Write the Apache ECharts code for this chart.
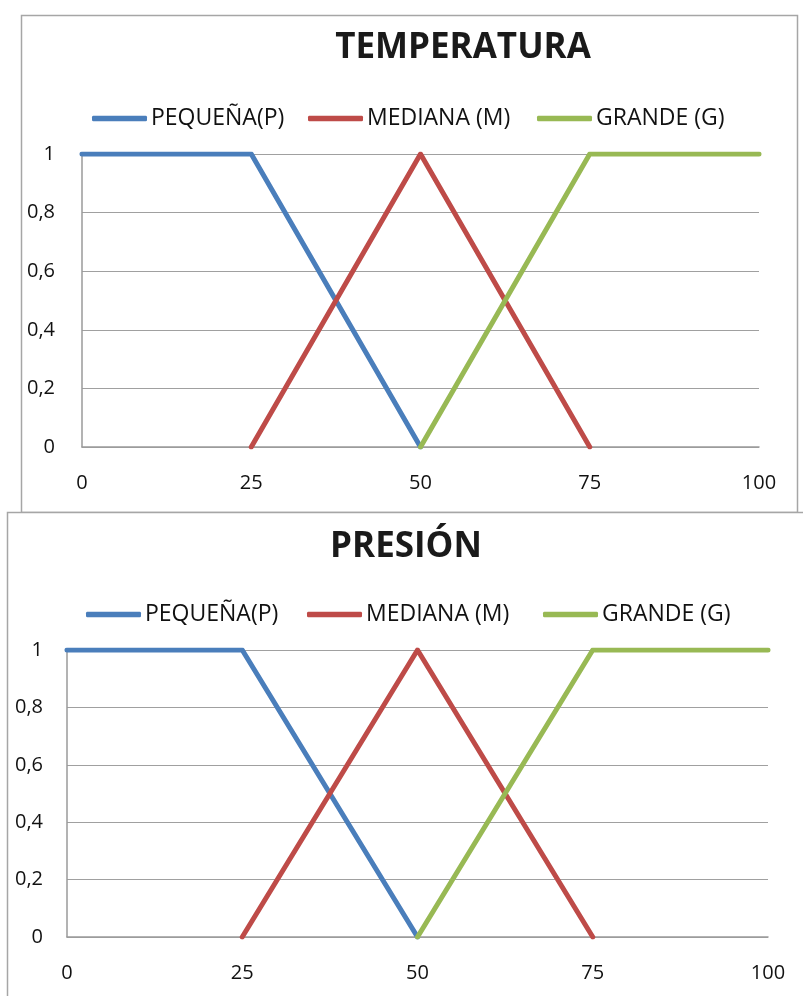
<!DOCTYPE html>
<html>
<head>
<meta charset="utf-8">
<script src="https://cdn.jsdelivr.net/npm/echarts@6/dist/echarts.min.js"></script>
<style>
html,body{margin:0;padding:0;background:#fff;}
#c{width:803px;height:996px;}
</style>
</head>
<body>
<div id="c"></div>
<script>
var titles = ['TEMPERATURA', 'PRESIÓN'];
var seriesNames = ['PEQUEÑA(P)', 'MEDIANA (M)', 'GRANDE (G)'];
var xTicks = [0, 25, 50, 75, 100];
var yTicks = [0, 0.2, 0.4, 0.6, 0.8, 1];
// Temperatura membership functions [x, grade]
var tempP = [[0, 1], [25, 1], [50, 0]];
var tempM = [[25, 0], [50, 1], [75, 0]];
var tempG = [[50, 0], [75, 1], [100, 1]];
// Presión membership functions [x, grade]
var presP = [[0, 1], [25, 1], [50, 0]];
var presM = [[25, 0], [50, 1], [75, 0]];
var presG = [[50, 0], [75, 1], [100, 1]];

var colors = ['#4A7EBB', '#BE4B48', '#98B954'];
var FONT = 'Open Sans';

function xAxis(gi, margin) {
  return {
    type: 'value', gridIndex: gi, min: xTicks[0], max: xTicks[xTicks.length - 1], interval: 25,
    axisLine: {show: true, lineStyle: {color: '#9a9a9a', width: 1.5}},
    axisTick: {show: false},
    splitLine: {show: false},
    axisLabel: {color: '#111', fontFamily: FONT, fontSize: 20, margin: margin}
  };
}
function yAxis(gi, margin) {
  return {
    type: 'value', gridIndex: gi, min: yTicks[0], max: yTicks[yTicks.length - 1], interval: 0.2,
    axisLine: {show: true, lineStyle: {color: '#9a9a9a', width: 1.5}},
    axisTick: {show: false},
    splitLine: {show: true, lineStyle: {color: '#a0a0a0', width: 1.2}},
    axisLabel: {
      color: '#111', fontFamily: FONT, fontSize: 20, margin: margin,
      formatter: function (v) { return String(Math.round(v * 10) / 10).replace('.', ','); }
    }
  };
}
function line(name, data, ci, gi) {
  return {
    name: name, type: 'line', data: data, xAxisIndex: gi, yAxisIndex: gi,
    symbol: 'none', showSymbol: false,
    lineStyle: {color: colors[ci], width: 5, cap: 'round', join: 'round'},
    itemStyle: {color: colors[ci]},
    animation: false
  };
}
function legendItem(i, left, top) {
  return {
    left: left, top: top, padding: 0, itemWidth: 55, itemHeight: 5.5, icon: 'roundRect',
    data: [seriesNames[i]],
    textStyle: {fontFamily: FONT, fontSize: 23, color: '#111', padding: [0, 0, 0, -1]}
  };
}

var chart = echarts.init(document.getElementById('c'));
chart.setOption({
  animation: false,
  graphic: [
    {type: 'rect', shape: {x: 21.5, y: 15.5, width: 776, height: 497}, style: {fill: 'none', stroke: '#a6a6a6', lineWidth: 1.5}, z: -1},
    {type: 'rect', shape: {x: 7.5, y: 512.5, width: 900, height: 600}, style: {fill: '#fff', stroke: '#a6a6a6', lineWidth: 1.5}, z: -1}
  ],
  title: [
    {text: titles[0], left: 463, top: 31, textAlign: 'center', padding: 0,
     textStyle: {fontFamily: FONT, fontWeight: 'bold', fontSize: 35, color: '#1a1a1a'}},
    {text: titles[1], left: 406, top: 530, textAlign: 'center', padding: 0,
     textStyle: {fontFamily: FONT, fontWeight: 'bold', fontSize: 35, color: '#1a1a1a'}}
  ],
  legend: [
    legendItem(0, 92, 107), legendItem(1, 308, 107), legendItem(2, 537, 107),
    legendItem(0, 86, 603), legendItem(1, 307, 603), legendItem(2, 543, 603)
  ],
  grid: [
    {left: 82, right: 44, top: 154, height: 293},
    {left: 67, right: 35, top: 650, height: 287}
  ],
  xAxis: [xAxis(0, 26), xAxis(1, 26)],
  yAxis: [yAxis(0, 27), yAxis(1, 24)],
  series: [
    line(seriesNames[0], tempP, 0, 0),
    line(seriesNames[1], tempM, 1, 0),
    line(seriesNames[2], tempG, 2, 0),
    line(seriesNames[0], presP, 0, 1),
    line(seriesNames[1], presM, 1, 1),
    line(seriesNames[2], presG, 2, 1)
  ]
});
</script>
</body>
</html>
